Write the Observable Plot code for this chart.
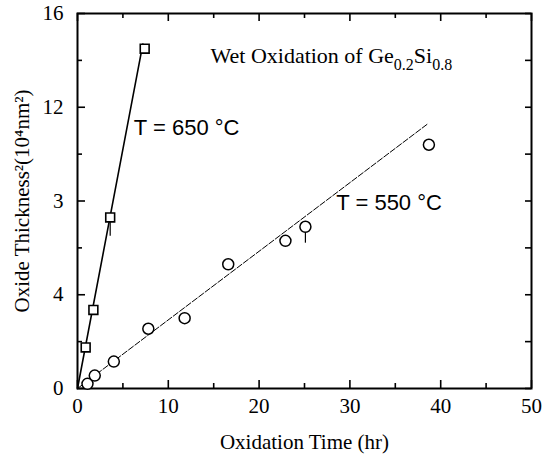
<!DOCTYPE html>
<html><head><meta charset="utf-8">
<script src="https://cdn.jsdelivr.net/npm/d3@7"></script>
<script src="https://cdn.jsdelivr.net/npm/@observablehq/plot@0.6"></script>
<style>body{margin:0;background:#fff}</style>
</head><body><div id="chart"></div>
<script>
// 650 °C (squares)
const sqX = [0.9, 1.75, 3.6, 7.4];
const sqY = [1.75, 3.35, 7.3, 14.5];
// 550 °C (circles)
const ciX = [1.1, 1.9, 4.0, 7.8, 11.8, 16.6, 22.9, 25.1, 38.7];
const ciY = [0.2, 0.55, 1.15, 2.55, 3.0, 5.3, 6.3, 6.9, 10.4];
// fitted lines
const fit650X = [0, 7.2], fit650Y = [0, 14.7];
const fit550X = [0, 38.6], fit550Y = [0, 11.3];
// error bars
const errX = [3.6, 25.1], errLo = [6.5, 6.2], errHi = [7.3, 6.9];
// ticks
const xDomain = [0, 50], yDomain = [0, 16];
const xMajor = [0, 10, 20, 30, 40, 50], xMinor = [5, 15, 25, 35, 45];
const yMajor = [0, 4, 8, 12, 16], yMinor = [2, 6, 10, 14];
const yTickLabels = ["0", "4", "3", "12", "16"];
// annotations
const annText = ["T = 650 °C", "T = 550 °C"];
const annX = [6.2, 28.5], annY = [11.1, 7.9];
const titleParts = [["Wet Oxidation of Ge", false], ["0.2", true], ["Si", false], ["0.8", true]];
const xLabel = "Oxidation Time (hr)";
const yLabel = "Oxide Thickness²(10⁴nm²)";

const zip = (xs, ys) => xs.map((x, i) => ({x, y: ys[i]}));
const squares = zip(sqX, sqY), circles = zip(ciX, ciY);
const f650 = zip(fit650X, fit650Y), f550 = zip(fit550X, fit550Y);
const errs = errX.map((x, i) => ({x, lo: errLo[i], hi: errHi[i]}));
const ann = annText.map((t, i) => ({t, x: annX[i], y: annY[i]}));
const serif = "Liberation Serif, Times New Roman, serif";
const sans = "Liberation Sans, Arial, sans-serif";
const titleStr = titleParts.map(p => p[0]).join("");

// layout
const W = 555, H = 455, mL = 77, mR = 24, mT = 13, mB = 67;
const plotW = W - mL - mR, plotH = H - mT - mB;
// tick length in pixels -> data units
const dy = px => px / plotH * (yDomain[1] - yDomain[0]);
const dx = px => px / plotW * (xDomain[1] - xDomain[0]);
const ts = {stroke: "black", strokeWidth: 1.6};
const tickBottom = (data, len) => Plot.ruleX(data, {x: d => d, y1: yDomain[0], y2: yDomain[0] + dy(len), ...ts});
const tickTop = (data, len) => Plot.ruleX(data, {x: d => d, y1: yDomain[1] - dy(len), y2: yDomain[1], ...ts});
const tickLeft = (data, len) => Plot.ruleY(data, {y: d => d, x1: xDomain[0], x2: xDomain[0] + dx(len), ...ts});
const tickRight = (data, len) => Plot.ruleY(data, {y: d => d, x1: xDomain[1] - dx(len), x2: xDomain[1], ...ts});

const svg = Plot.plot({
  width: W, height: H,
  marginLeft: mL, marginRight: mR, marginTop: mT, marginBottom: mB,
  style: {fontFamily: serif},
  x: {domain: xDomain},
  y: {domain: yDomain},
  marks: [
    tickBottom(xMajor, 8), tickBottom(xMinor, 5),
    tickTop(xMajor, 8), tickTop(xMinor, 5),
    tickLeft(yMajor, 8), tickLeft(yMinor, 5),
    tickRight([...yMajor, ...yMinor], 6),
    Plot.axisX(xMajor, {anchor: "bottom", tickSize: 0, tickPadding: 10, fontSize: 21, fontFamily: serif,
      label: xLabel, labelAnchor: "center", labelOffset: 60, labelArrow: "none"}),
    Plot.axisY(yMajor, {anchor: "left", tickSize: 0, tickPadding: 14, fontSize: 21, fontFamily: serif,
      tickFormat: (d) => yTickLabels[yMajor.indexOf(d)],
      label: yLabel, labelAnchor: "center", labelOffset: 63, labelArrow: "none"}),
    Plot.frame({strokeWidth: 2, stroke: "black"}),
    Plot.line(f650, {x: "x", y: "y", stroke: "black", strokeWidth: 1.6}),
    Plot.line(f550, {x: "x", y: "y", stroke: "black", strokeWidth: 1, strokeDasharray: "6,2"}),
    Plot.ruleX(errs, {x: "x", y1: "lo", y2: "hi", stroke: "black", strokeWidth: 1.2}),
    Plot.dot(squares, {x: "x", y: "y", symbol: "square", r: 5, stroke: "black", fill: "white", strokeWidth: 1.6}),
    Plot.dot(circles, {x: "x", y: "y", symbol: "circle", r: 5.5, stroke: "black", fill: "white", strokeWidth: 1.5}),
    Plot.text(ann, {x: "x", y: "y", text: "t", textAnchor: "start", lineAnchor: "middle", fontSize: 22, fontFamily: sans, fill: "black"}),
    Plot.text([titleStr], {frameAnchor: "top-left", dx: 133, dy: 42, text: d => d,
      textAnchor: "start", lineAnchor: "middle", fontSize: 22, fontFamily: serif, fill: "black"})
  ]
});
// subscripts in title
d3.select(svg).selectAll("text").filter(function() { return this.textContent === titleStr; }).each(function() {
  const t = d3.select(this);
  t.text(null);
  titleParts.forEach(([s, sub], i) => {
    const prevSub = i > 0 && titleParts[i - 1][1];
    const sp = t.append("tspan").text(s);
    if (sub) sp.attr("dy", prevSub ? 0 : 7).attr("font-size", 16);
    else if (prevSub) sp.attr("dy", -7);
  });
});
svg.style.color = "black";
svg.style.background = "white";
document.getElementById("chart").appendChild(svg);
</script>
</body></html>
